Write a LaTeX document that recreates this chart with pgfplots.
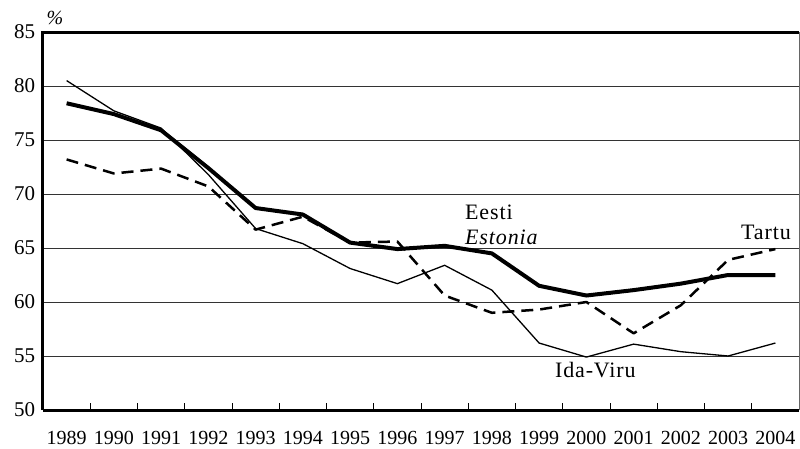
\documentclass[border=0pt]{standalone}
\usepackage{pgfplots}
\pgfplotsset{compat=1.18}
\usepackage{fontspec}
\setmainfont{Liberation Serif}
\newfontfamily\lblfont{Liberation Serif}[LetterSpace=4]
\begin{document}
\fontsize{20}{24}\selectfont
\begin{tikzpicture}
\useasboundingbox (-43pt,-38pt) rectangle (757pt,410pt);
\begin{axis}[
  at={(0,0)}, anchor=south west,
  scale only axis, width=756pt, height=378pt,
  xmin=-0.5, xmax=15.5, ymin=50, ymax=85,
  axis line style={draw=none},
  xtick={0,...,15},
  xticklabels={1989,1990,1991,1992,1993,1994,1995,1996,1997,1998,1999,2000,2001,2002,2003,2004},
  minor xtick={0.5,1.5,...,14.5},
  major x tick style={draw=none},
  minor tick length=7pt,
  tick align=inside, tick pos=left,
  ytick={50,55,...,85},
  major y tick style={draw=none},
  ymajorgrids, grid style={black!80, line width=0.9pt},
  xticklabel style={yshift=-14.5pt},
  yticklabel style={xshift=-1pt},
  minor tick style={black, line width=1pt},
  /pgf/number format/assume math mode=true,
  ticklabel style={font=\fontsize{20}{24}\selectfont},
  yticklabel style={font=\fontsize{21}{24}\selectfont},
  clip=false,
]
\addplot[black, line width=4pt, line join=round] coordinates {
(0,78.4)(1,77.4)(2,75.9)(3,72.4)(4,68.7)(5,68.1)(6,65.5)(7,64.9)(8,65.2)(9,64.5)(10,61.5)(11,60.6)(12,61.1)(13,61.7)(14,62.5)(15,62.5)};
\addplot[black, line width=2.5pt, dash pattern=on 12pt off 7pt, line join=round] coordinates {
(0,73.2)(1,71.9)(2,72.35)(3,70.7)(4,66.7)(5,67.9)(6,65.5)(7,65.6)(8,60.6)(9,59.0)(10,59.3)(11,60.0)(12,57.1)(13,59.7)(14,63.9)(15,64.9)};
\addplot[black, line width=1.3pt, line join=round] coordinates {
(0,80.5)(1,77.7)(2,76.1)(3,71.8)(4,66.8)(5,65.4)(6,63.1)(7,61.7)(8,63.4)(9,61.1)(10,56.2)(11,54.9)(12,56.1)(13,55.4)(14,55.0)(15,56.2)};
\draw[black, line width=3pt] (rel axis cs:0,0) -- (rel axis cs:1,0);
\draw[black, line width=3pt] (rel axis cs:0,0) -- (rel axis cs:0,1) -- (rel axis cs:1,1);
\draw[black!60, line width=1pt] (rel axis cs:1,0) -- (rel axis cs:1,1);
\begin{scope}[font=\lblfont\fontsize{22}{26}\selectfont]
\node[anchor=west, inner sep=0pt] at (axis cs:8.43,68.33) {Eesti};
\node[anchor=west, inner sep=0pt] at (axis cs:8.43,66.0) {\itshape Estonia};
\node[inner sep=0pt] at (axis cs:14.8,66.4) {Tartu};
\node[inner sep=0pt] at (axis cs:11.19,53.7) {Ida-Viru};
\end{scope}
\node[inner sep=0pt] at ([xshift=12pt,yshift=14pt]rel axis cs:0,1) {\itshape\%};
\end{axis}
\end{tikzpicture}
\end{document}
